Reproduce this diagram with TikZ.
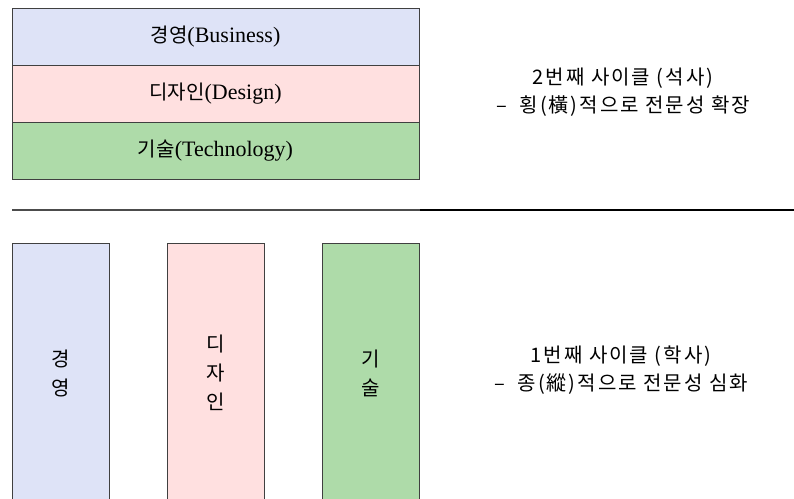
\documentclass[tikz,border=0pt]{standalone}
\usepackage{fontspec}
\setmainfont{Liberation Serif}
\newfontfamily\kr[Scale=0.91]{Noto Sans CJK KR}
\newfontfamily\krwide[Scale=0.91, LetterSpace=10]{Noto Sans CJK KR}
\usetikzlibrary{positioning}
\definecolor{bizblue}{HTML}{DEE3F7}
\definecolor{dsnpink}{HTML}{FFE0E0}
\definecolor{techgreen}{HTML}{AEDBA9}
\begin{document}
\begin{tikzpicture}[x = 1pt, y = -1pt,
        every node/.style = {font = \fontsize{22}{28}\selectfont},
        rowbox/.style  = {draw = black!75, line width = 1pt, minimum width = 407pt,
                          minimum height = 57pt, inner sep = 0pt, outer sep = 0pt},
        colbox/.style  = {draw = black!75, line width = 1pt, minimum width = 97pt,
                          minimum height = 260pt, inner sep = 0pt, outer sep = 0pt,
                          align = center, anchor = north west,
                          font = \kr\fontsize{22}{29}\selectfont},
        note/.style    = {align = center, font = \krwide\fontsize{22}{28}\selectfont}]
                \useasboundingbox (0,0) rectangle (794,498);
                \clip (0,0) rectangle (794,498);
                \node [rowbox, fill = bizblue, anchor = north west] (biz) at (12,8) {{\kr 경영}(Business)};
                \node [rowbox, fill = dsnpink,   below = 0pt of biz] (dsn)  {{\kr 디자인}(Design)};
                \node [rowbox, fill = techgreen, below = 0pt of dsn] (tech) {{\kr 기술}(Technology)};
                \node [note] (cycletwo) at (623,92) {2번째 사이클 (석사)\\–\ \ 횡(橫)적으로 전문성 확장};
                \coordinate (divl) at (12,210);
                \coordinate (divm) at (420,210);
                \coordinate (divr) at (794,210);
                \draw [black!70, line width = 1.2pt] (divl) -- (divm);
                \draw [black,    line width = 2.4pt] (divm) -- (divr);
                \node [colbox, fill = bizblue] (bizcol) at (12,243) {경\\영};
                \node [colbox, fill = dsnpink,   right = 58pt of bizcol] (dsncol)  {디\\자\\인};
                \node [colbox, fill = techgreen, right = 58pt of dsncol] (techcol) {기\\술};
                \node [note] (cycleone) at (621,370) {1번째 사이클 (학사)\\–\ \ 종(縱)적으로 전문성 심화};
            \end{tikzpicture}
\end{document}
